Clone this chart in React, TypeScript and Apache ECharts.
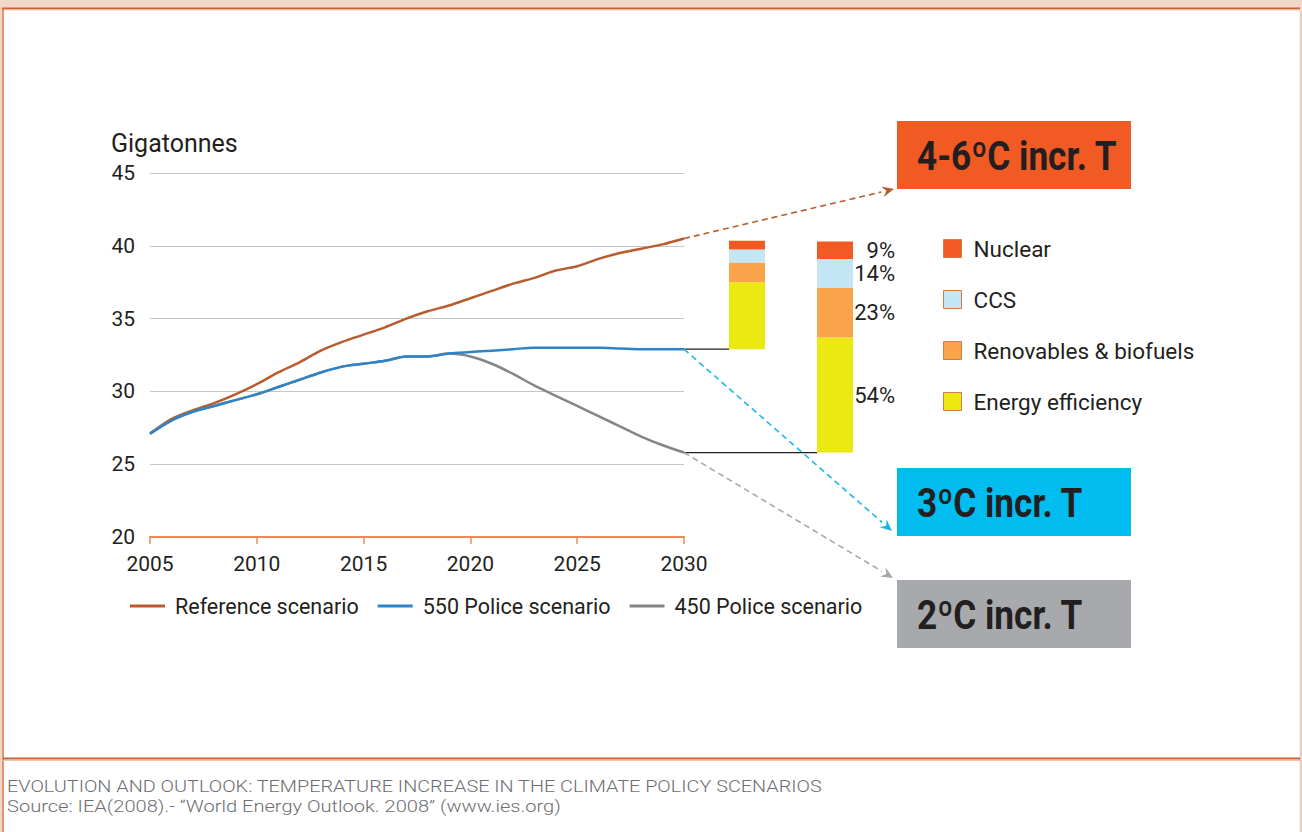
import React, { useEffect, useRef } from "react";
import * as echarts from "echarts";

const years = [2005, 2006, 2007, 2008, 2009, 2010, 2011, 2012, 2013, 2014, 2015, 2016, 2017, 2018, 2019, 2020, 2021, 2022, 2023, 2024, 2025, 2026, 2027, 2028, 2029, 2030];
const referenceScenario = [27.1, 28.1, 28.7, 29.2, 29.8, 30.5, 31.3, 32.0, 32.8, 33.4, 33.9, 34.4, 35.0, 35.5, 35.9, 36.4, 36.9, 37.4, 37.8, 38.3, 38.6, 39.1, 39.5, 39.8, 40.1, 40.5];
const police550 = [27.1, 28.0, 28.6, 29.0, 29.4, 29.8, 30.3, 30.8, 31.3, 31.7, 31.9, 32.1, 32.4, 32.4, 32.6, 32.7, 32.8, 32.9, 33.0, 33.0, 33.0, 33.0, 32.95, 32.9, 32.9, 32.9];
const police450 = [27.1, 28.0, 28.6, 29.0, 29.4, 29.8, 30.3, 30.8, 31.3, 31.7, 31.9, 32.1, 32.4, 32.4, 32.6, 32.4, 31.9, 31.2, 30.4, 29.7, 29.0, 28.3, 27.6, 26.9, 26.3, 25.8];
const lineNames = ["Reference scenario", "550 Police scenario", "450 Police scenario"];

// stacked abatement bars (gigatonnes): first = 550 scenario gap, second = 450 scenario gap
const barCategories = ["550", "450"];
const barBase = [police550[police550.length - 1], police450[police450.length - 1]];
const energyEfficiency = [4.6, 7.9];
const renewables = [1.35, 3.4];
const ccs = [0.9, 2.0];
const nuclear = [0.6, 1.2];
const shareLabels = { energy: "54%", renew: "23%", ccs: "14%", nuclear: "9%" };
const barNames = ["Nuclear", "CCS", "Renovables & biofuels", "Energy efficiency"];

const yTicks = { min: 20, max: 45, interval: 5 };
const xTicks = { min: 2005, max: 2030, interval: 5 };

const boxTitles = ["4-6ºC incr. T", "3ºC incr. T", "2ºC incr. T"];
const captionTitle = "EVOLUTION AND OUTLOOK: TEMPERATURE INCREASE IN THE CLIMATE POLICY SCENARIOS";
const captionSource = "Source: IEA(2008).- \u201CWorld Energy Outlook. 2008\u201D (www.ies.org)";

const C = {
  ref: "#b85c2e",
  p550: "#2f84c6",
  p450: "#858587",
  cyan: "#1ab8ea",
  grayDash: "#a8a8a8",
  yellow: "#ece812",
  orange: "#f9a44a",
  lightBlue: "#c3e5f6",
  red: "#f15a22",
  text: "#231f20",
};

const FONT = "Roboto, 'Noto Sans', sans-serif";

export default function App() {
  const ref = useRef<HTMLDivElement>(null);
  useEffect(() => {
    document.body.style.margin = "0";
    const chart = echarts.init(ref.current!, null, { renderer: "svg" });
    const BW = 36;
    const labeled = (vals: number[], text: string) =>
      vals.map((v, i) => (i === 1 ? { value: v, label: { show: true, formatter: text } } : { value: v }));
    const barLabel = {
      show: false,
      position: "right",
      distance: 42,
      align: "right",
      fontSize: 22,
      fontFamily: FONT,
      color: C.text,
    };
    const barSeries = (name: string, color: string, vals: number[], text: string) => ({
      name,
      type: "bar",
      xAxisIndex: 1,
      yAxisIndex: 1,
      stack: "abate",
      barWidth: BW,
      itemStyle: { color },
      label: barLabel,
      data: labeled(vals, text),
    });
    const option: any = {
      animation: false,
      backgroundColor: "#f2d6c9",
      textStyle: { fontFamily: FONT },
      grid: [
        { left: 150, right: 618, top: 173, bottom: 295 },
        { left: 703, width: 176, top: 173, bottom: 295 },
      ],
      xAxis: [
        {
          type: "value",
          gridIndex: 0,
          min: xTicks.min,
          max: xTicks.max,
          interval: xTicks.interval,
          axisLine: { show: true, lineStyle: { color: "#ec8a55", width: 2 } },
          axisTick: { show: true, length: 7, lineStyle: { color: "#ec8a55", width: 1.5 } },
          splitLine: { show: false },
          axisLabel: { fontSize: 21, color: C.text, margin: 16, fontFamily: FONT, formatter: (v: number) => String(v) },
        },
        { type: "category", gridIndex: 1, data: barCategories, show: false },
      ],
      yAxis: [
        {
          type: "value",
          gridIndex: 0,
          min: yTicks.min,
          max: yTicks.max,
          interval: yTicks.interval,
          axisLine: { show: false },
          axisTick: { show: false },
          splitLine: { lineStyle: { color: "#c6c6c6", width: 1.2 } },
          axisLabel: { fontSize: 21, color: C.text, margin: 15, fontFamily: FONT },
        },
        { type: "value", gridIndex: 1, min: yTicks.min, max: yTicks.max, show: false },
      ],
      legend: [
        {
          data: lineNames,
          left: 125,
          top: 590,
          icon: "rect",
          itemWidth: 35,
          itemHeight: 3,
          itemGap: 19,
          textStyle: { fontSize: 21.5, color: C.text, fontFamily: FONT, padding: [0, 0, 0, 5] },
        },
        {
          data: barNames,
          orient: "vertical",
          left: 938,
          top: 232,
          icon: "rect",
          itemWidth: 18,
          itemHeight: 18,
          itemGap: 28,
          itemStyle: { borderColor: "#cf7c4c", borderWidth: 1 },
          textStyle: { fontSize: 22.5, color: C.text, fontFamily: FONT, padding: [0, 0, 0, 7], lineHeight: 22 },
        },
      ],
      series: [
        {
          name: lineNames[0],
          type: "line",
          smooth: 0.3,
          showSymbol: false,
          data: years.map((y, i) => [y, referenceScenario[i]]),
          color: C.ref,
          lineStyle: { width: 2.5, color: C.ref },
          z: 4,
        },
        {
          name: lineNames[2],
          type: "line",
          smooth: 0.3,
          showSymbol: false,
          data: years.map((y, i) => [y, police450[i]]),
          color: C.p450,
          lineStyle: { width: 2.5, color: C.p450 },
          z: 3,
        },
        {
          name: lineNames[1],
          type: "line",
          smooth: 0.3,
          showSymbol: false,
          data: years.map((y, i) => [y, police550[i]]),
          color: C.p550,
          lineStyle: { width: 2.5, color: C.p550 },
          z: 4,
        },
        {
          name: "base",
          type: "bar",
          xAxisIndex: 1,
          yAxisIndex: 1,
          stack: "abate",
          barWidth: BW,
          silent: true,
          itemStyle: { color: "rgba(0,0,0,0)" },
          data: barBase,
        },
        barSeries(barNames[3], C.yellow, energyEfficiency, shareLabels.energy),
        barSeries(barNames[2], C.orange, renewables, shareLabels.renew),
        barSeries(barNames[1], C.lightBlue, ccs, shareLabels.ccs),
        barSeries(barNames[0], C.red, nuclear, shareLabels.nuclear),
      ],
    };
    chart.setOption(option);

    const last = years.length - 1;
    const pRef = chart.convertToPixel({ gridIndex: 0 }, [years[last], referenceScenario[last]]) as number[];
    const p550 = chart.convertToPixel({ gridIndex: 0 }, [years[last], police550[last]]) as number[];
    const p450 = chart.convertToPixel({ gridIndex: 0 }, [years[last], police450[last]]) as number[];
    const b1 = chart.convertToPixel({ xAxisIndex: 1, yAxisIndex: 1 }, [0, barBase[0]]) as number[];
    const b2 = chart.convertToPixel({ xAxisIndex: 1, yAxisIndex: 1 }, [1, barBase[1]]) as number[];

    const boxX = 897;
    const boxW = 234;
    const boxes = [
      { y: 121, h: 68, color: "#f15a22", tip: [894, 189], dash: C.ref, from: pRef },
      { y: 468, h: 68, color: "#00bcef", tip: [892, 531], dash: C.cyan, from: p550 },
      { y: 580, h: 68, color: "#a7a9ac", tip: [893, 578], dash: C.grayDash, from: p450 },
    ];

    const graphics: any[] = [
      { type: "rect", shape: { x: 2, y: 8, width: 1298, height: 830 }, style: { fill: "#ffffff" }, z: -100, silent: true },
      { type: "line", shape: { x1: 2, y1: 8.5, x2: 1300, y2: 8.5 }, style: { stroke: "#c9622d", lineWidth: 2 }, z: -99 },
      { type: "line", shape: { x1: 2, y1: 10, x2: 1300, y2: 10 }, style: { stroke: "#f0c3ad", lineWidth: 1 }, z: -99 },
      { type: "line", shape: { x1: 3, y1: 8, x2: 3, y2: 832 }, style: { stroke: "#d9733f", lineWidth: 1.5 }, z: -99 },
      { type: "line", shape: { x1: 1300.5, y1: 10, x2: 1300.5, y2: 832 }, style: { stroke: "#e6cabd", lineWidth: 1.5 }, z: -99 },
      { type: "line", shape: { x1: 3, y1: 758.5, x2: 1300, y2: 758.5 }, style: { stroke: "#c9622d", lineWidth: 2 }, z: -99 },
      { type: "line", shape: { x1: 3, y1: 760.5, x2: 1300, y2: 760.5 }, style: { stroke: "#f0c3ad", lineWidth: 1 }, z: -99 },
      { type: "text", x: 111, y: 143, style: { text: "Gigatonnes", font: `25px ${FONT}`, fill: C.text, verticalAlign: "middle" } },
      { type: "line", shape: { x1: p550[0], y1: p550[1], x2: b1[0] - BW / 2, y2: p550[1] }, style: { stroke: C.text, lineWidth: 1.3 }, z: 2 },
      { type: "line", shape: { x1: p450[0], y1: p450[1], x2: b2[0] - BW / 2, y2: p450[1] }, style: { stroke: C.text, lineWidth: 1.3 }, z: 2 },
      { type: "text", x: 7, y: 786, scaleX: 1.24, style: { text: captionTitle, font: `300 16px ${FONT}`, fill: "#6d6e71", verticalAlign: "middle" } },
      { type: "text", x: 7, y: 806, scaleX: 1.255, style: { text: captionSource, font: `300 16px ${FONT}`, fill: "#6d6e71", verticalAlign: "middle" } },
    ];

    boxes.forEach((b, i) => {
      graphics.push({ type: "rect", shape: { x: boxX, y: b.y, width: boxW, height: b.h }, style: { fill: b.color }, z: 5 });
      graphics.push({
        type: "text",
        x: 917,
        y: b.y + b.h / 2 + 1,
        scaleX: 0.88,
        z: 6,
        style: { text: boxTitles[i], font: `bold 40px ${FONT}`, fill: C.text, verticalAlign: "middle" },
      });
      const [x0, y0] = b.from;
      const [x1, y1] = b.tip;
      const ang = Math.atan2(y1 - y0, x1 - x0);
      const len = 13;
      const back = [x1 - len * Math.cos(ang), y1 - len * Math.sin(ang)];
      graphics.push({
        type: "line",
        shape: { x1: x0, y1: y0, x2: back[0], y2: back[1] },
        style: { stroke: b.dash, lineWidth: 1.6, lineDash: [6, 4] },
        z: 3,
      });
      const wing = 0.42;
      const pA = [x1 - len * Math.cos(ang - wing), y1 - len * Math.sin(ang - wing)];
      const pB = [x1 - len * Math.cos(ang + wing), y1 - len * Math.sin(ang + wing)];
      const notch = [x1 - len * 0.6 * Math.cos(ang), y1 - len * 0.6 * Math.sin(ang)];
      graphics.push({
        type: "polygon",
        shape: { points: [[x1, y1], pA, notch, pB] },
        style: { fill: b.dash },
        z: 3,
      });
    });

    chart.setOption({ graphic: graphics });

    return () => chart.dispose();
  }, []);
  return <div ref={ref} style={{ position: "absolute", left: 0, top: 0, width: 1302, height: 832 }} />;
}
